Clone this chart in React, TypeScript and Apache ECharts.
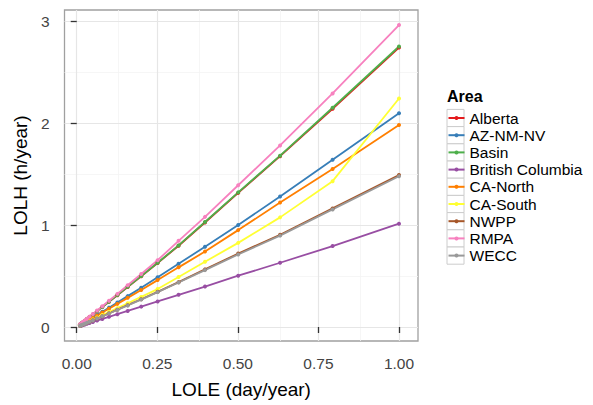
import React, { useEffect, useRef } from "react";
import * as echarts from "echarts";

const areas = ["Alberta", "AZ-NM-NV", "Basin", "British Columbia", "CA-North", "CA-South", "NWPP", "RMPA", "WECC"];
const colors = ["#E41A1C", "#377EB8", "#4DAF4A", "#984EA3", "#FF7F00", "#FFFF33", "#A65628", "#F781BF", "#999999"];

const lole = [0.01, 0.0126, 0.0158, 0.02, 0.0251, 0.0316, 0.0398, 0.0501, 0.0631, 0.0794, 0.1, 0.126, 0.158, 0.2, 0.251, 0.316, 0.398, 0.501, 0.631, 0.794, 1.0];

const alberta = [0.0244, 0.0309, 0.0388, 0.0488, 0.0618, 0.0777, 0.0977, 0.1235, 0.1555, 0.196, 0.247, 0.312, 0.393, 0.498, 0.627, 0.797, 1.025, 1.315, 1.675, 2.14, 2.74];
const aznmnv = [0.0187, 0.0236, 0.0297, 0.0375, 0.047, 0.059, 0.075, 0.094, 0.119, 0.15, 0.19, 0.24, 0.303, 0.385, 0.487, 0.62, 0.787, 1.0, 1.28, 1.64, 2.095];
const basin = [0.0245, 0.031, 0.039, 0.049, 0.062, 0.078, 0.098, 0.124, 0.156, 0.197, 0.248, 0.313, 0.395, 0.5, 0.63, 0.8, 1.03, 1.32, 1.68, 2.15, 2.75];
const britishColumbia = [0.01, 0.0126, 0.0158, 0.02, 0.0251, 0.0316, 0.0398, 0.0501, 0.0631, 0.0794, 0.1, 0.126, 0.158, 0.2, 0.251, 0.316, 0.397, 0.503, 0.63, 0.794, 1.013];
const caNorth = [0.0177, 0.0223, 0.028, 0.0354, 0.0445, 0.056, 0.071, 0.089, 0.113, 0.142, 0.18, 0.227, 0.286, 0.363, 0.46, 0.585, 0.74, 0.95, 1.22, 1.55, 1.98];
const caSouth = [0.0145, 0.0182, 0.023, 0.029, 0.0365, 0.046, 0.058, 0.073, 0.093, 0.117, 0.147, 0.185, 0.233, 0.295, 0.372, 0.49, 0.64, 0.825, 1.075, 1.43, 2.24];
const nwpp = [0.013, 0.0163, 0.0206, 0.026, 0.033, 0.0415, 0.0525, 0.066, 0.084, 0.106, 0.134, 0.17, 0.214, 0.272, 0.345, 0.44, 0.565, 0.72, 0.905, 1.163, 1.49];
const rmpa = [0.0255, 0.032, 0.04, 0.051, 0.064, 0.081, 0.102, 0.128, 0.162, 0.204, 0.257, 0.325, 0.41, 0.52, 0.655, 0.845, 1.08, 1.39, 1.78, 2.29, 2.96];
const wecc = [0.0129, 0.0162, 0.0205, 0.0259, 0.0327, 0.041, 0.052, 0.065, 0.083, 0.105, 0.133, 0.168, 0.212, 0.269, 0.342, 0.436, 0.558, 0.711, 0.896, 1.153, 1.478];

const seriesValues = [alberta, aznmnv, basin, britishColumbia, caNorth, caSouth, nwpp, rmpa, wecc];

const xTicks = [0, 0.25, 0.5, 0.75, 1.0];
const xMinor = [0.125, 0.375, 0.625, 0.875];
const yTicks = [0, 1, 2, 3];
const yMinor = [0.5, 1.5, 2.5];

const FONT = "Liberation Sans, Arial, Helvetica, sans-serif";

export default function App() {
  const ref = useRef<HTMLDivElement>(null);
  useEffect(() => {
    if (!ref.current) return;
    const chart = echarts.init(ref.current, undefined, { renderer: "svg" });

    const gridMark = (vals: number[], axis: "xAxis" | "yAxis", color: string, width: number) =>
      vals.map((v) => ({ [axis]: v, lineStyle: { color, width, type: "solid" } }));

    const legendTop = 109.4;
    const rowH = 17.2;

    const option: any = {
      animation: false,
      backgroundColor: "#ffffff",
      textStyle: { fontFamily: FONT },
      grid: {
        left: 64.5,
        top: 10,
        width: 353.5,
        height: 331,
        show: true,
        borderColor: "#a0a0a0",
        borderWidth: 1.3,
        backgroundColor: "transparent",
      },
      xAxis: {
        type: "value",
        min: -0.038,
        max: 1.059,
        name: "LOLE (day/year)",
        nameLocation: "middle",
        nameGap: 39,
        nameTextStyle: { fontSize: 19, color: "#000", fontFamily: FONT },
        axisLine: { show: false },
        splitLine: { show: false },
        axisTick: { show: true, length: 6, customValues: xTicks, lineStyle: { color: "#333", width: 1.3 } },
        axisLabel: {
          customValues: xTicks,
          margin: 14,
          fontSize: 15.5,
          color: "#444",
          fontFamily: FONT,
          formatter: (v: number) => v.toFixed(2),
        },
      },
      yAxis: {
        type: "value",
        min: -0.137,
        max: 3.108,
        name: "LOLH (h/year)",
        nameLocation: "middle",
        nameGap: 32,
        nameTextStyle: { fontSize: 19, color: "#000", fontFamily: FONT },
        axisLine: { show: false },
        splitLine: { show: false },
        axisTick: { show: true, length: 6, customValues: yTicks, lineStyle: { color: "#333", width: 1.3 } },
        axisLabel: {
          customValues: yTicks,
          margin: 15,
          fontSize: 15.5,
          color: "#444",
          fontFamily: FONT,
          formatter: (v: number) => String(Math.round(v)),
        },
      },
      legend: {
        orient: "vertical",
        left: 447.5,
        top: legendTop,
        padding: 0,
        itemGap: 0,
        itemWidth: 16,
        itemHeight: 5,
        data: areas,
        selectedMode: false,
        textStyle: { fontSize: 15.5, color: "#000", fontFamily: FONT, lineHeight: rowH },
      },
      graphic: [
        {
          type: "text",
          left: 447,
          top: 88,
          style: { text: "Area", font: `bold 16px ${FONT}`, fill: "#000" },
        },
        ...areas.map((_, i) => ({
          type: "rect",
          shape: { x: 447, y: legendTop + i * rowH, width: 17, height: rowH },
          style: { fill: "#ffffff", stroke: "#cccccc", lineWidth: 1 },
          z: -1,
        })),
      ],
      series: [
        {
          type: "line",
          name: "__grid",
          data: [],
          silent: true,
          z: 0,
          markLine: {
            silent: true,
            z: 0,
            symbol: ["none", "none"],
            label: { show: false },
            animation: false,
            data: [
              ...gridMark(xMinor, "xAxis", "#f4f4f4", 0.8),
              ...gridMark(yMinor, "yAxis", "#f4f4f4", 0.8),
              ...gridMark(xTicks, "xAxis", "#e6e6e6", 1.2),
              ...gridMark(yTicks, "yAxis", "#e6e6e6", 1.2),
            ],
          },
        },
        ...areas.map((name, i) => ({
          type: "line",
          name,
          data: lole.map((x, j) => [x, seriesValues[i][j]]),
          symbol: "circle",
          symbolSize: 4,
          showSymbol: true,
          z: 2,
          color: colors[i],
          lineStyle: { width: 1.8, color: colors[i] },
          itemStyle: { color: colors[i] },
          emphasis: { disabled: true },
        })),
      ],
    };
    chart.setOption(option);
    return () => chart.dispose();
  }, []);
  return <div ref={ref} style={{ position: "fixed", left: 0, top: 0, width: 593, height: 405 }} />;
}
